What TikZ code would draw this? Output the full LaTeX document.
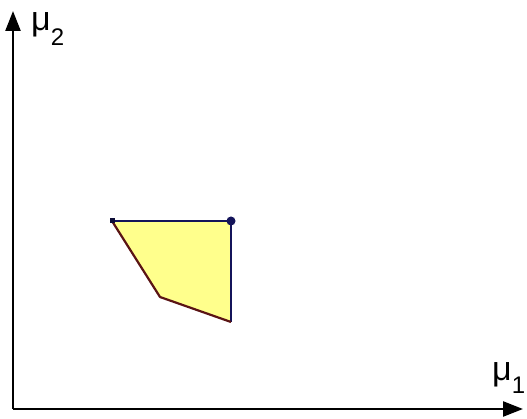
\documentclass[tikz,border=0pt]{standalone}
\usepackage{fontspec}
\setmainfont{Liberation Sans}
\usetikzlibrary{arrows.meta,calc}
\definecolor{fillyel}{RGB}{255,255,140}
\definecolor{navy}{RGB}{20,20,90}
\definecolor{maroon}{RGB}{90,20,20}
\begin{document}
\begin{tikzpicture}[x=1pt,y=-1pt,
  axis/.style={line width=2.4pt,-{Triangle[length=20pt,width=15pt]}},
  lbl/.style={inner sep=0pt,anchor=base west,font=\fontsize{34}{34}\selectfont}]
\useasboundingbox (0,0) rectangle (527,419);
\coordinate (O) at (13,409);
\coordinate (Y) at (13,11);
\coordinate (X) at (523,409);
\draw[axis] (O) -- (Y);
\draw[axis] (O) -- (X);
\node[lbl] (m2) at (31,31) {μ\raisebox{-15pt}{\fontsize{24}{24}\selectfont 2}};
\node[lbl] (m1) at (492,380) {μ\raisebox{-13pt}{\fontsize{24}{24}\selectfont 1}};
\coordinate (A) at (112,221);
\coordinate (B) at (231,221);
\coordinate (C) at (231,322);
\coordinate (D) at (160,297);
\fill[fillyel] (A) -- (B) -- (C) -- (D) -- cycle;
\draw[navy,line width=1.8pt] (A) -- (B) -- (C);
\draw[maroon,line width=2.2pt,line join=round] (C) -- (D) -- (A);
\fill[navy] (B) circle (4.5pt);
\fill[navy!60!black] ($(A)+(-2.5,-2.5)$) rectangle ($(A)+(2.5,2.5)$);
\end{tikzpicture}
\end{document}
